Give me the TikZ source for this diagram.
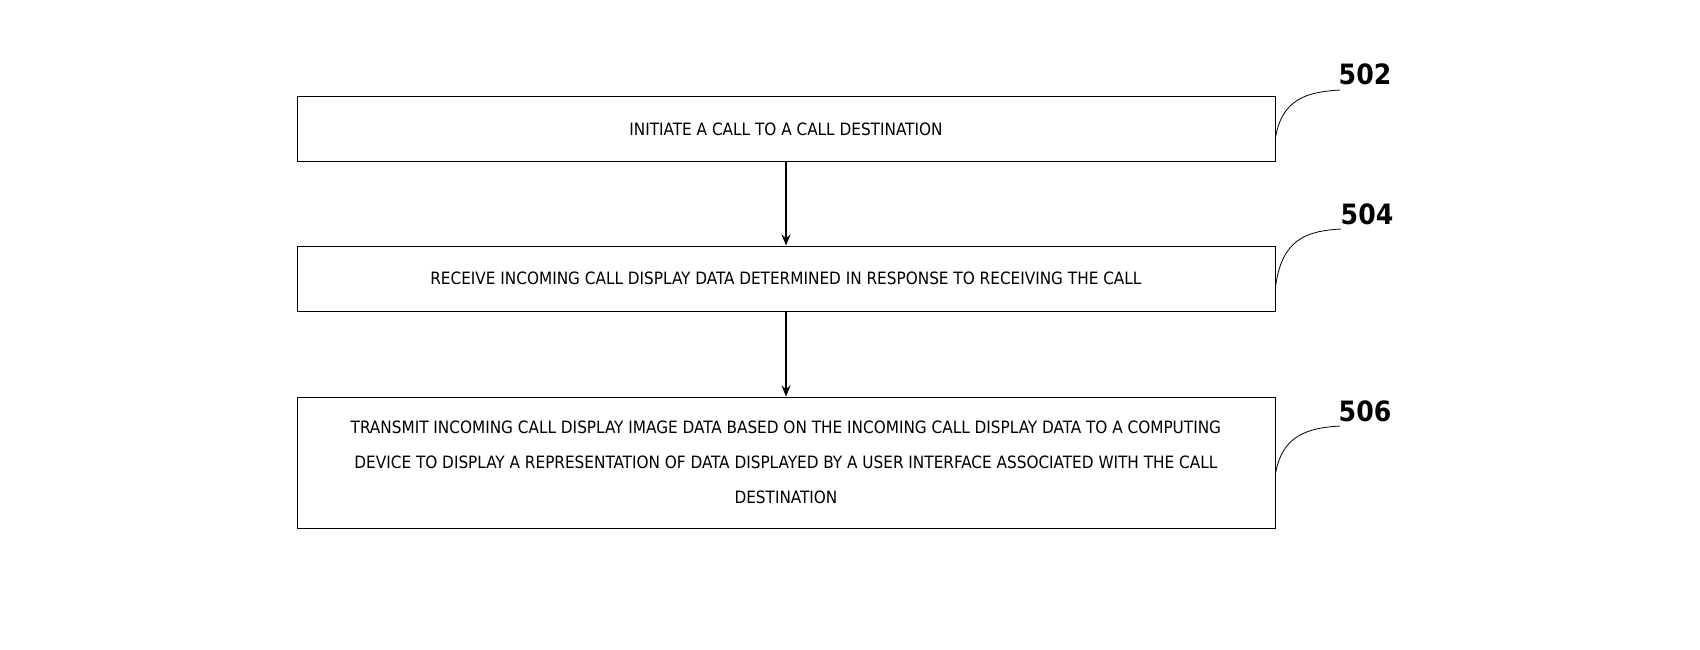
\documentclass[tikz,border=0pt]{standalone}
\usepackage{fontspec}
\setmainfont{DejaVu Sans Condensed}
\usetikzlibrary{arrows.meta}
\begin{document}
\begin{tikzpicture}[x=1pt,y=-1pt,
  stepbox/.style={draw,line width=1pt,minimum width=978pt,align=center,font=\fontsize{17}{35}\selectfont,inner sep=0pt},
  lbl/.style={font=\fontsize{28}{28}\selectfont\bfseries},
  arr/.style={-{Stealth[length=11pt,width=9pt]},line width=1.4pt},
  lead/.style={line width=0.8pt}]
\useasboundingbox (0,0) rectangle (1700,650);
\node[stepbox,minimum height=65pt] (b1) at (786,129.5) {INITIATE A CALL TO A CALL DESTINATION};
\node[stepbox,minimum height=65pt] (b2) at (786,278.5) {RECEIVE INCOMING CALL DISPLAY DATA DETERMINED IN RESPONSE TO RECEIVING THE CALL};
\node[stepbox,minimum height=131pt] (b3) at (786,462.5) {TRANSMIT INCOMING CALL DISPLAY IMAGE DATA BASED ON THE INCOMING CALL DISPLAY DATA TO A COMPUTING\\DEVICE TO DISPLAY A REPRESENTATION OF DATA DISPLAYED BY A USER INTERFACE ASSOCIATED WITH THE CALL\\DESTINATION};
\draw[arr] (b1) -- (b2);
\draw[arr] (b2) -- (b3);
\node[lbl] (l1) at (1365,74) {502};
\node[lbl] (l2) at (1367,214) {504};
\node[lbl] (l3) at (1365,411) {506};
\coordinate (c1) at (1340,90);
\coordinate (c2) at (1341,229);
\coordinate (c3) at (1340,426);
\draw[lead] ([yshift=-8pt]b1.east) .. controls (1282,100) and (1305,92) .. (c1);
\draw[lead] ([yshift=-8pt]b2.east) .. controls (1282,240) and (1305,231) .. (c2);
\draw[lead] ([yshift=-11pt]b3.east) .. controls (1282,437) and (1305,428) .. (c3);
\end{tikzpicture}
\end{document}
